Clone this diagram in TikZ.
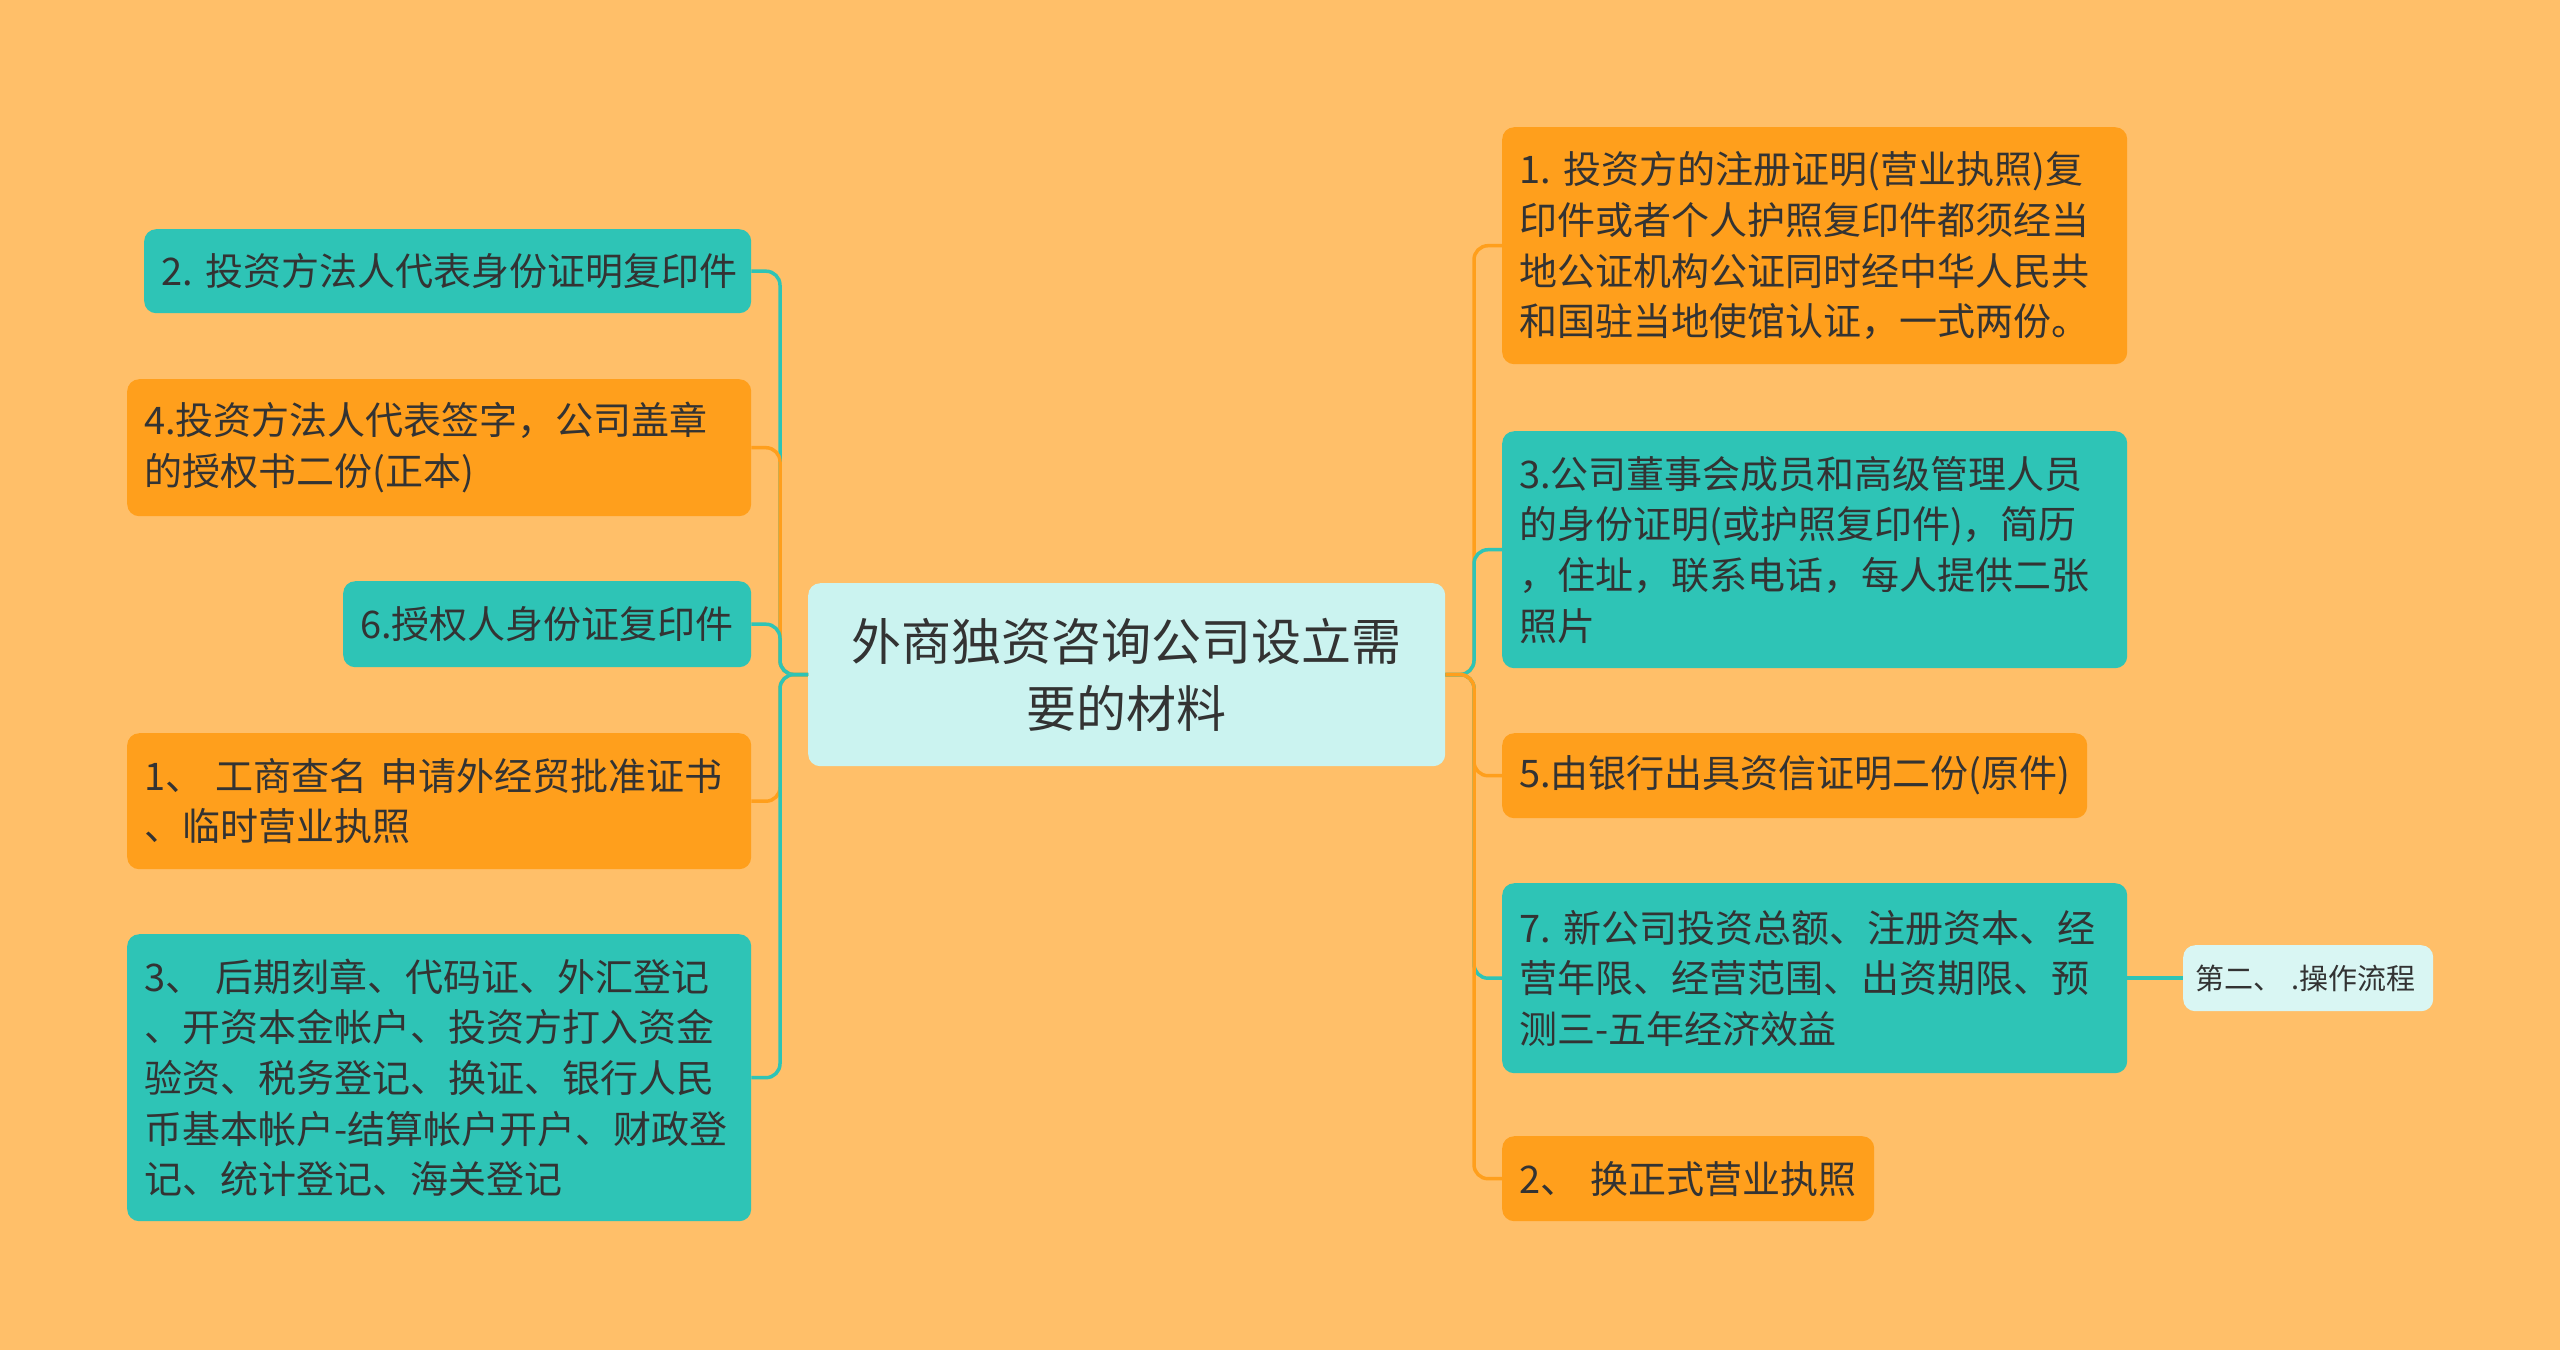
\documentclass[tikz,border=0pt]{standalone}
\usepackage{fontspec}
\setmainfont{Noto Sans CJK SC}
\definecolor{bgc}{HTML}{FFBF69}
\definecolor{orn}{HTML}{FF9F1C}
\definecolor{tea}{HTML}{2EC4B6}
\definecolor{rootc}{HTML}{CBF3F0}
\definecolor{leafc}{HTML}{D9F6F3}
\definecolor{txt}{HTML}{333333}
\tikzset{
  box/.style={rounded corners=12pt, anchor=north west, inner xsep=17pt, inner ysep=0pt,
    align=left, text=txt, font=\fontsize{38}{50.6}\selectfont},
  tline/.style={draw=tea, line width=3.5pt, rounded corners=14pt},
  oline/.style={draw=orn, line width=3.5pt, rounded corners=14pt},
}
\begin{document}
\begin{tikzpicture}[x=1pt,y=-1pt]
\fill[bgc] (0,0) rectangle (2560,1350);
\useasboundingbox (0,0) rectangle (2560,1350);

% root
\node[rounded corners=12pt, anchor=north west, fill=rootc, minimum width=637pt, minimum height=183pt,
  align=center, text=txt, font=\fontsize{50}{67}\selectfont, inner sep=0pt] (root) at (808,583)
  {外商独资咨询公司设立需\\要的材料};

% left
\node[box, fill=tea, text width=573pt, minimum height=84pt] (L1) at (144,229)
  {2.~投资方法人代表身份证明复印件};
\node[box, fill=orn, text width=590pt, minimum height=137pt] (L2) at (127,379)
  {4.投资方法人代表签字，公司盖章\\的授权书二份(正本)};
\node[box, fill=tea, text width=374pt, minimum height=86pt] (L3) at (343,581)
  {6.授权人身份证复印件};
\node[box, fill=orn, text width=590pt, minimum height=136pt] (L4) at (127,733)
  {1、~工商查名~申请外经贸批准证书\\、临时营业执照};
\node[box, fill=tea, text width=590pt, minimum height=287pt] (L5) at (127,934)
  {3、~后期刻章、代码证、外汇登记\\、开资本金帐户、投资方打入资金\\验资、税务登记、换证、银行人民\\币基本帐户-结算帐户开户、财政登\\记、统计登记、海关登记};

% right
\node[box, fill=orn, text width=591pt, minimum height=237pt] (R1) at (1502,127)
  {1.~投资方的注册证明(营业执照)复\\印件或者个人护照复印件都须经当\\地公证机构公证同时经中华人民共\\和国驻当地使馆认证，一式两份。};
\node[box, fill=tea, text width=591pt, minimum height=237pt] (R2) at (1502,431)
  {3.公司董事会成员和高级管理人员\\的身份证明(或护照复印件)，简历\\，住址，联系电话，每人提供二张\\照片};
\node[box, fill=orn, text width=551pt, minimum height=85pt] (R3) at (1502,733)
  {5.由银行出具资信证明二份(原件)};
\node[box, fill=tea, text width=591pt, minimum height=190pt] (R4) at (1502,883)
  {7.~新公司投资总额、注册资本、经\\营年限、经营范围、出资期限、预\\测三-五年经济效益};
\node[box, fill=orn, text width=338pt, minimum height=85pt] (R5) at (1502,1136)
  {2、~换正式营业执照};
\node[box, fill=leafc, inner xsep=12pt, text width=226pt, minimum height=66pt,
  font=\fontsize{29}{36}\selectfont] (R6) at (2183,945)
  {第二、~.操作流程};

% connectors left
\draw[tline] (root.west) -- (780,674.5) |- (L1.east);
\draw[oline] (root.west) -- (780,674.5) |- (L2.east);
\draw[tline] (root.west) -- (780,674.5) |- (L3.east);
\draw[oline] (root.west) -- (780,674.5) |- (L4.east);
\draw[tline] (root.west) -- (780,674.5) |- (L5.east);
% connectors right
\draw[oline] (root.east) -- (1474,674.5) |- (R1.west);
\draw[tline] (root.east) -- (1474,674.5) |- (R2.west);
\draw[oline] (root.east) -- (1474,674.5) |- (R3.west);
\draw[tline] (root.east) -- (1474,674.5) |- (R4.west);
\draw[oline] (root.east) -- (1474,674.5) |- (R5.west);
\draw[tline] (R4.east) -- (R6.west);
\end{tikzpicture}
\end{document}
